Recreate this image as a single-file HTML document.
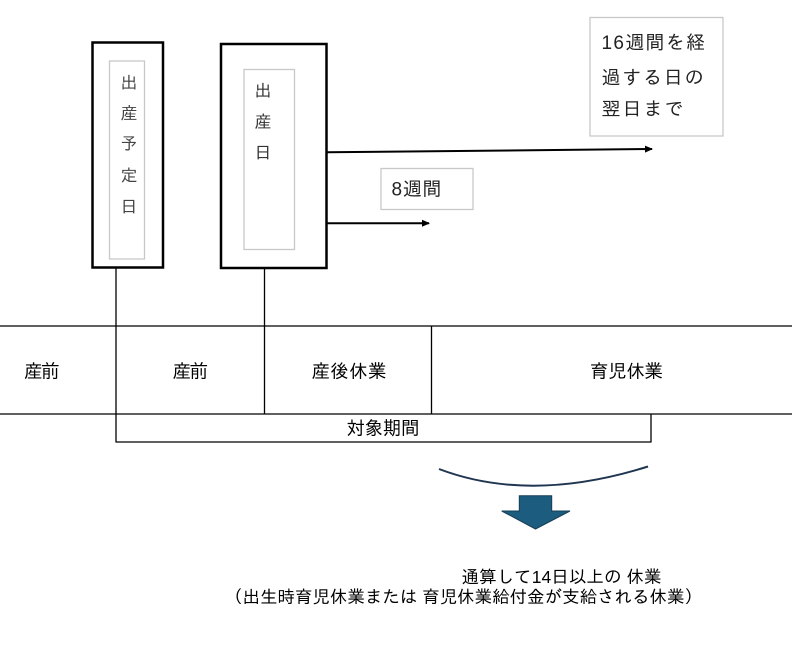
<!DOCTYPE html>
<html><head><meta charset="utf-8"><style>
html,body{margin:0;padding:0;background:#fff;}
svg{display:block;}
text{font-family:"Liberation Sans","IPAGothic","Noto Sans CJK JP",sans-serif;}
</style></head><body>
<svg width="792" height="645" viewBox="0 0 792 645" xmlns="http://www.w3.org/2000/svg">
<rect x="0" y="0" width="792" height="645" fill="#fff"/>
<defs>
<marker id="ah" markerWidth="8" markerHeight="8" refX="7" refY="4" orient="auto" markerUnits="userSpaceOnUse">
<path d="M0,0.5 L8,4 L0,7.5 Z" fill="#000"/>
</marker>
</defs>

<!-- box 1 -->
<rect x="92.5" y="42.5" width="70.5" height="225" fill="none" stroke="#000" stroke-width="2.5"/>
<rect x="109.5" y="61" width="35" height="198" fill="none" stroke="#c8c8c8" stroke-width="1.3"/>
<g font-size="17" fill="#444" text-anchor="middle" dominant-baseline="central">
<text x="129" y="83">出</text>
<text x="129" y="113.5">産</text>
<text x="129" y="144">予</text>
<text x="129" y="176">定</text>
<text x="129" y="207">日</text>
</g>

<!-- box 2 -->
<rect x="221" y="44" width="105.5" height="224" fill="none" stroke="#000" stroke-width="2.5"/>
<rect x="244" y="69.5" width="50.5" height="180" fill="none" stroke="#c8c8c8" stroke-width="1.3"/>
<g font-size="17" fill="#333" text-anchor="middle" dominant-baseline="central">
<text x="263" y="91">出</text>
<text x="263" y="122">産</text>
<text x="263" y="153">日</text>
</g>

<!-- arrows -->
<line x1="327" y1="152.3" x2="652" y2="149" stroke="#000" stroke-width="2" marker-end="url(#ah)"/>
<line x1="327" y1="223.3" x2="429" y2="223.3" stroke="#000" stroke-width="2" marker-end="url(#ah)"/>

<!-- 16 weeks box -->
<rect x="590" y="17.5" width="133" height="118.5" fill="#fff" stroke="#c8c8c8" stroke-width="1.3"/>
<g font-size="19" fill="#222" dominant-baseline="central">
<text x="601.5" y="43.5" textLength="103.5">16週間を経</text>
<text x="601.5" y="78.5" textLength="102">過する日の</text>
<text x="601.5" y="110" textLength="82">翌日まで</text>
</g>

<!-- 8 weeks box -->
<rect x="381" y="168.5" width="92" height="41" fill="#fff" stroke="#c8c8c8" stroke-width="1.3"/>
<text x="391.5" y="190" font-size="19" fill="#222" dominant-baseline="central" textLength="50">8週間</text>

<!-- vertical connectors -->
<line x1="116" y1="268" x2="116" y2="442.5" stroke="#000" stroke-width="1.3"/>
<line x1="264.5" y1="269" x2="264.5" y2="414" stroke="#000" stroke-width="1.3"/>

<!-- table -->
<line x1="0" y1="326" x2="792" y2="326" stroke="#000" stroke-width="1.3"/>
<line x1="0" y1="414" x2="792" y2="414" stroke="#000" stroke-width="1.3"/>
<line x1="431.5" y1="326" x2="431.5" y2="414" stroke="#000" stroke-width="1.3"/>
<line x1="116" y1="442" x2="651" y2="442" stroke="#000" stroke-width="1.3"/>
<line x1="651" y1="414" x2="651" y2="442.5" stroke="#000" stroke-width="1.3"/>

<g font-size="18.5" fill="#000" dominant-baseline="central">
<text x="24" y="371" textLength="35.5">産前</text>
<text x="172.5" y="371" textLength="35.5">産前</text>
<text x="311.5" y="371" textLength="75">産後休業</text>
<text x="590" y="371" textLength="73">育児休業</text>
<text x="346.5" y="428" textLength="73">対象期間</text>
</g>

<!-- curve -->
<path d="M439,469 Q530,503.6 648,466.5" fill="none" stroke="#1f3550" stroke-width="2"/>

<!-- block arrow -->
<polygon points="519.3,495.7 551.7,495.7 551.7,511 570,511 535.5,529 501.7,511 519.3,511" fill="#1c5c7e" stroke="#163f57" stroke-width="1"/>

<!-- bottom text -->
<g font-size="17.5" fill="#000" dominant-baseline="central">
<text x="461.5" y="577" textLength="200">通算して14日以上の 休業</text>
<text x="225" y="597" textLength="477">（出生時育児休業または 育児休業給付金が支給される休業）</text>
</g>
</svg>
</body></html>
